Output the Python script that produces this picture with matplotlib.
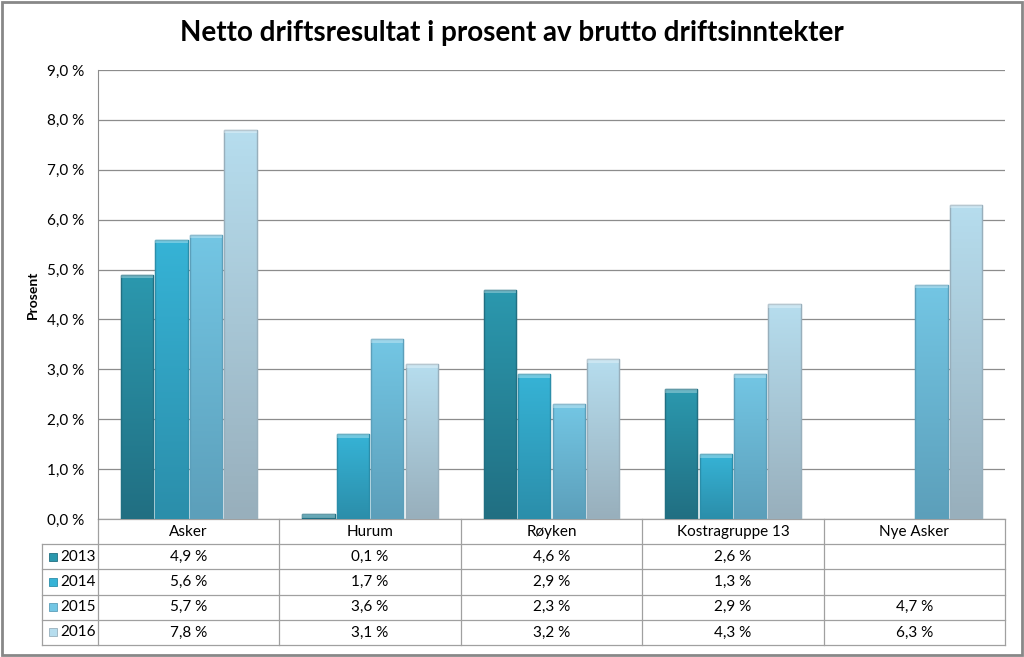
import numpy as np
import matplotlib.pyplot as plt
from matplotlib.patches import Rectangle
from matplotlib.colors import LinearSegmentedColormap

plt.rcParams['font.family'] = ['Lato', 'DejaVu Sans']

# Data
kategorier = ["Asker", "Hurum", "Røyken", "Kostragruppe 13", "Nye Asker"]
aar = ["2013", "2014", "2015", "2016"]
v2013 = [4.9, 0.1, 4.6, 2.6, np.nan]
v2014 = [5.6, 1.7, 2.9, 1.3, np.nan]
v2015 = [5.7, 3.6, 2.3, 2.9, 4.7]
v2016 = [7.8, 3.1, 3.2, 4.3, 6.3]
serier = [v2013, v2014, v2015, v2016]

# (top, bottom) gradient colours per year
farger = [("#2b98ae", "#216f82"),
          ("#36b3d6", "#2b8eaa"),
          ("#73c6e4", "#5c9fba"),
          ("#b6ddee", "#98afbc")]

fig = plt.figure(figsize=(10.24, 6.57), dpi=100)
ax = fig.add_axes([98 / 1024, 138 / 657, 907 / 1024, 449 / 657])

n = len(kategorier)
x = np.arange(n)
bw = 0.178
step = 0.19
for i, (vals, (ctop, cbot)) in enumerate(zip(serier, farger)):
    cmap = LinearSegmentedColormap.from_list("g%d" % i, [cbot, ctop])
    bars = ax.bar(x + (i - 1.5) * step, vals, bw, color=ctop,
                  edgecolor=cbot, linewidth=0.8, zorder=3)
    for p in bars:
        h = p.get_height()
        if not np.isfinite(h) or h <= 0:
            continue
        x0, w = p.get_x(), p.get_width()
        grad = np.linspace(0, 1, 100).reshape(-1, 1)
        im = ax.imshow(grad, cmap=cmap, origin="lower", aspect="auto",
                       extent=[x0, x0 + w, 0, h], zorder=3.5)
        im.set_clip_path(p)
        # edges and top bevel
        ax.add_patch(Rectangle((x0, 0), w, h, fill=False, edgecolor=cbot,
                               lw=1.0, zorder=4))
        ax.add_patch(Rectangle((x0, h - 0.07), w, 0.07, color="white",
                               alpha=0.3, lw=0, zorder=4))

ax.set_xlim(-0.5, n - 0.5)
ax.set_ylim(0, 9)
ax.set_yticks(np.arange(0, 10, 1))
ax.set_yticklabels([("%.1f %%" % t).replace(".", ",") for t in range(10)],
                   fontsize=11)
ax.tick_params(axis="y", length=0, pad=10)
ax.set_xticks([])
ax.grid(axis="y", color="#8c8c8c", linewidth=0.9, zorder=0)
for s in ["top", "right", "bottom"]:
    ax.spines[s].set_visible(False)
ax.spines["left"].set_color("#8c8c8c")
ax.set_ylabel("Prosent", fontsize=10, fontweight="bold", labelpad=6)

fig.text(0.5, 1 - 33 / 657, "Netto driftsresultat i prosent av brutto driftsinntekter",
         ha="center", va="center", fontsize=20, fontweight="bold")

# Data table below the axes
tr = ax.get_xaxis_transform()
rh = 25.2 / 449
lc = "#a0a0a0"
left_x = -0.5 - (98 - 42) / 181.4
y_bot = -rh * 5
for k in range(n + 1):
    ax.plot([k - 0.5, k - 0.5], [0, y_bot], transform=tr, color=lc,
            lw=0.9, clip_on=False)
ax.plot([left_x, left_x], [-rh, y_bot], transform=tr, color=lc, lw=0.9, clip_on=False)
ax.plot([-0.5, n - 0.5], [0, 0], transform=tr, color=lc, lw=0.9, clip_on=False)
for r in range(1, 6):
    ax.plot([left_x, n - 0.5], [-rh * r, -rh * r], transform=tr, color=lc,
            lw=0.9, clip_on=False)
for k, kat in enumerate(kategorier):
    ax.text(k, -rh * 0.5, kat, transform=tr, ha="center", va="center", fontsize=11)
for r, (lbl, vals, (ctop, cbot)) in enumerate(zip(aar, serier, farger)):
    yc = -rh * (r + 1.5)
    ax.add_patch(Rectangle((left_x + 0.04, yc - 0.009), 0.045, 0.018,
                           transform=tr, facecolor=ctop, edgecolor=cbot,
                           lw=0.6, clip_on=False))
    ax.text(left_x + 0.1, yc, lbl, transform=tr, ha="left", va="center", fontsize=11)
    for k, v in enumerate(vals):
        if np.isfinite(v):
            ax.text(k, yc, ("%.1f %%" % v).replace(".", ","), transform=tr,
                    ha="center", va="center", fontsize=11)

# outer frame
fig.patches.append(Rectangle((0.002, 0.003), 0.996, 0.994, transform=fig.transFigure,
                             fill=False, edgecolor="#888888", lw=2))

fig.savefig("out.png", dpi=100)
